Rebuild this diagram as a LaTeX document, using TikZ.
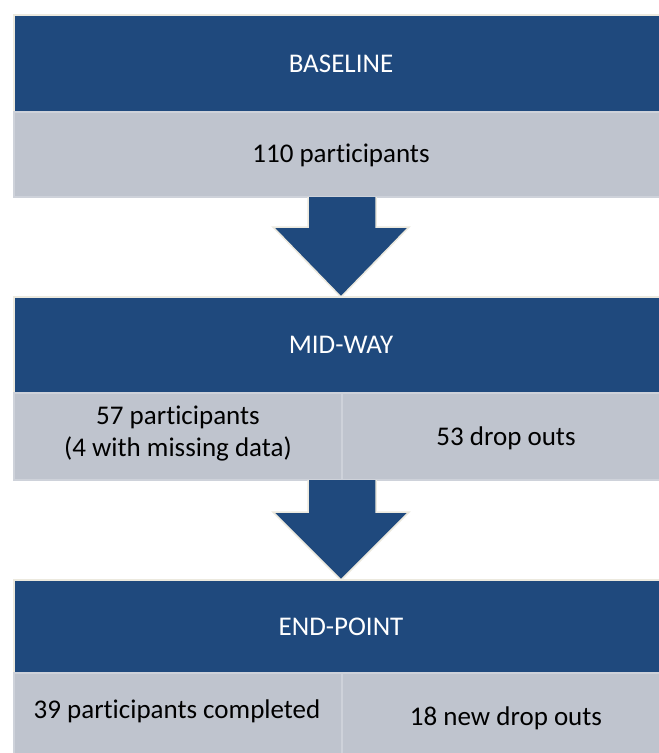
\documentclass[tikz,border=0pt]{standalone}
\usepackage{fontspec}
\setmainfont{Carlito}[Ligatures=NoCommon]
\definecolor{hdrblue}{RGB}{31,73,125}
\definecolor{cellgrey}{RGB}{191,196,206}
\definecolor{cellline}{RGB}{206,210,218}
\definecolor{edgebeige}{RGB}{236,233,222}
\begin{document}
\begin{tikzpicture}[x=1pt,y=-1pt,
  hdr/.style={fill=hdrblue,draw=edgebeige,line width=1.2pt},
  cell/.style={fill=cellgrey,draw=cellline,line width=1.5pt},
  hdrtext/.style={text=white,font=\fontsize{27}{32}\selectfont},
  celltext/.style={text=black,font=\fontsize{27}{32}\selectfont,align=center},
  blockarrow/.style={fill=hdrblue,draw=edgebeige,line width=1.5pt,line join=miter}]
\useasboundingbox (0,0) rectangle (659,753);
\fill[white] (0,0) rectangle (659,753);
\begin{scope}
\clip (0,0) rectangle (659,753);
% BASELINE
\draw[hdr] (14,15) rectangle (672,112);
\node[hdrtext] (baseline) at (341,63.5) {BASELINE};
\draw[cell] (14,112) rectangle (672,197);
\node[celltext] (p110) at (341,155) {110 participants};
% arrow 1
\draw[blockarrow] (308,197) -- (308,227) -- (273,227) -- (341,297) -- (409,227) -- (376,227) -- (376,197);
% MID-WAY
\draw[hdr] (14,297) rectangle (672,393);
\node[hdrtext] (midway) at (341,345) {MID-WAY};
\draw[cell] (14,393) rectangle (342,480);
\draw[cell] (342,393) rectangle (672,480);
\node[celltext] (p57) at (178,434) {57 participants\\(4 with missing data)};
\node[celltext] (d53) at (506,438) {53 drop outs};
% arrow 2
\draw[blockarrow] (308,480) -- (308,512) -- (273,512) -- (341,580) -- (409,512) -- (376,512) -- (376,480);
% END-POINT
\draw[hdr] (14,580) rectangle (672,673);
\node[hdrtext] (endpoint) at (341,627) {END-POINT};
\draw[cell] (14,673) rectangle (342,770);
\draw[cell] (342,673) rectangle (672,770);
\node[celltext] (p39) at (177,711) {39 participants completed};
\node[celltext] (d18) at (506,718) {18 new drop outs};
\end{scope}
\end{tikzpicture}
\end{document}
